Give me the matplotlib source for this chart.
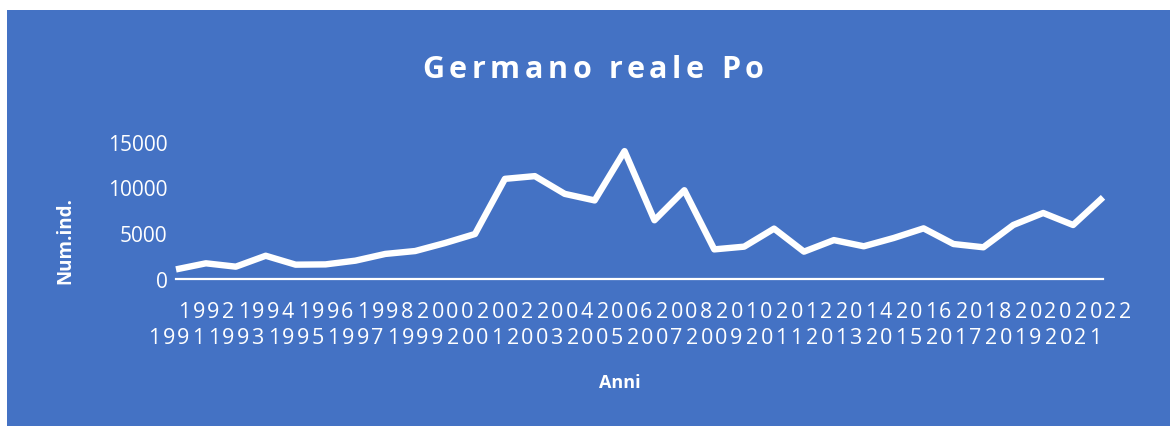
import matplotlib
matplotlib.use('Agg')
import matplotlib.pyplot as plt
from matplotlib.patches import Rectangle
from matplotlib.transforms import offset_copy, blended_transform_factory

# data
years = list(range(1991, 2023))
counts = [1000, 1670, 1300, 2500, 1520, 1550, 1960, 2700, 3020, 3900,
          4890, 10950, 11250, 9300, 8580, 14000, 6400, 9700, 3200, 3500,
          5480, 2950, 4220, 3540, 4450, 5510, 3790, 3430, 5880, 7200,
          5880, 8920]
yticks = [0, 5000, 10000, 15000]

title = 'Germano reale Po'
ylabel = 'Num.ind.'
xlabel = 'Anni'

blue = '#4472C4'
font = 'Open Sans'
W, H = 1170, 427

fig = plt.figure(figsize=(W / 100, H / 100), dpi=100, facecolor='white')
fig.patches.append(Rectangle((7 / W, 0), 1 - 7 / W, (H - 11) / H,
                             transform=fig.transFigure, facecolor=blue,
                             edgecolor='none', zorder=-5))
renderer = fig.canvas.get_renderer()


def text_width(s, **kw):
    t = fig.text(0, 0, s, **kw)
    w = t.get_window_extent(renderer).width
    t.remove()
    return w


def tracked(x, y, s, track, transform, **kw):
    # draw text with extra letter spacing (pixels), centred on x
    base = text_width('HH', **kw)
    widths = [text_width('H' + ch + 'H', **kw) - base for ch in s]
    total = sum(widths) + track * (len(s) - 1)
    dx = -total / 2
    for ch, w in zip(s, widths):
        tr = offset_copy(transform, fig=fig, x=dx, y=0, units='dots')
        fig.text(x, y, ch, transform=tr, ha='left', va='center', **kw)
        dx += w + track


ax = fig.add_axes([176 / W, (H - 279.5) / H, 927 / W, 136.5 / H])
ax.set_facecolor('none')
ax.plot(years, counts, color='white', lw=4.6, solid_joinstyle='round',
        solid_capstyle='butt', clip_on=False, zorder=3)
ax.set_xlim(1991, 2022)
ax.set_ylim(0, 15000)
for s in ['top', 'right', 'left']:
    ax.spines[s].set_visible(False)
ax.spines['bottom'].set_color('white')
ax.spines['bottom'].set_linewidth(1.6)
ax.set_yticks(yticks)
ax.set_yticklabels([str(v) for v in yticks], color='white',
                   fontfamily=font, fontsize=15)
ax.tick_params(axis='y', length=0, pad=6)
ax.set_xticks([])

# staggered year labels
trans = blended_transform_factory(ax.transData, fig.transFigure)
for yr in years:
    row_y = (H - 313) / H if yr % 2 == 0 else (H - 339) / H
    tracked(yr, row_y, str(yr), 2.2, trans, color='white',
            fontfamily=font, fontsize=15.5)

tracked(593 / W, (H - 70) / H, title, 4.6, fig.transFigure, color='white',
        fontfamily=font, fontsize=22, fontweight='bold')

fig.text(65 / W, (H - 240) / H, ylabel, rotation=90, ha='center',
         va='center', color='white', fontfamily=font, fontsize=13.5,
         fontweight='bold')
fig.text(620 / W, (H - 383) / H, xlabel, ha='center', va='center',
         color='white', fontfamily=font, fontsize=13, fontweight='bold')

fig.savefig('out.png', dpi=100, facecolor='white')
